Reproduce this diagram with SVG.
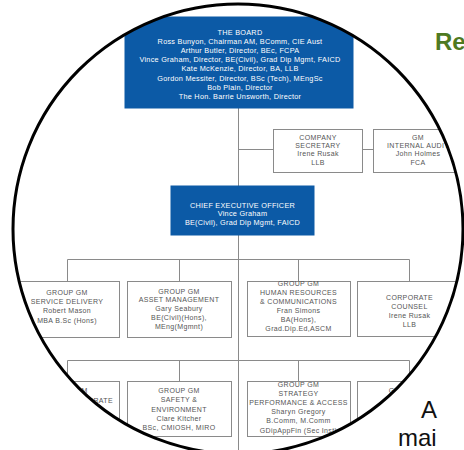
<svg xmlns="http://www.w3.org/2000/svg" width="464" height="450" viewBox="0 0 464 450">
<style>
.bg{fill:#ffffff}
.blue{fill:#0c5aa6;stroke:#0c5aa6;stroke-width:1}
.box{fill:#ffffff;stroke:#8a8a8a;stroke-width:1}
.wt{font-family:"Liberation Sans",Arial,sans-serif;font-size:7.3px;fill:#ffffff;text-anchor:middle;letter-spacing:0.25px}
.gt{font-family:"Liberation Sans",Arial,sans-serif;font-size:7px;fill:#555555;text-anchor:middle;letter-spacing:0.35px}
.ln{fill:none;stroke:#8a8a8a;stroke-width:1}
.big{font-family:"Liberation Sans",Arial,sans-serif}
</style>
<defs>
<clipPath id="lens"><circle cx="238" cy="229" r="225"/></clipPath>
</defs>
<rect class="bg" x="0" y="0" width="464" height="450"/>
<g id="outside-text">
<text class="big" x="435" y="50" font-size="24" font-weight="bold" fill="#4e7a22">Re</text>
<text class="big" x="421" y="418" font-size="24" fill="#111111">A</text>
<text class="big" x="398" y="446" font-size="24" fill="#111111">mai</text>
</g>
<g clip-path="url(#lens)">
<circle cx="238" cy="229" r="225" fill="#ffffff"/>
<g id="connectors">
<path class="ln" d="M238.5,108 V186 M238.5,235 V450 M238.5,149.5 H273 M362,149.5 H373 M67.5,259.5 H409.5 M67.5,259.5 V281 M179.5,259.5 V281 M298.5,259.5 V281 M409.5,259.5 V281 M67.5,360.5 H409.5 M67.5,360.5 V381 M179.5,360.5 V381 M298.5,360.5 V381 M409.5,360.5 V381"/>
</g>
<g id="board">
<rect class="blue" x="125" y="17" width="228" height="91"/>
<text class="wt" x="240" y="35">THE BOARD</text>
<text class="wt" x="240" y="44.1">Ross Bunyon, Chairman AM, BComm, CIE Aust</text>
<text class="wt" x="240" y="53.2">Arthur Butler, Director, BEc, FCPA</text>
<text class="wt" x="240" y="62.3">Vince Graham, Director, BE(Civil), Grad Dip Mgmt, FAICD</text>
<text class="wt" x="240" y="71.4">Kate McKenzie, Director, BA, LLB</text>
<text class="wt" x="240" y="80.5">Gordon Messiter, Director, BSc (Tech), MEngSc</text>
<text class="wt" x="240" y="89.6">Bob Plain, Director</text>
<text class="wt" x="240" y="98.7">The Hon. Barrie Unsworth, Director</text>
</g>
<g id="company-secretary">
<rect class="box" x="273.5" y="129.5" width="89" height="43"/>
<text class="gt" x="318" y="139.5">COMPANY</text>
<text class="gt" x="318" y="147.9">SECRETARY</text>
<text class="gt" x="318" y="156.3">Irene Rusak</text>
<text class="gt" x="318" y="164.7">LLB</text>
</g>
<g id="internal-audit">
<rect class="box" x="373.5" y="129.5" width="89" height="43"/>
<text class="gt" x="418" y="139.5">GM</text>
<text class="gt" x="418" y="147.9">INTERNAL AUDIT</text>
<text class="gt" x="418" y="156.3">John Holmes</text>
<text class="gt" x="418" y="164.7">FCA</text>
</g>
<g id="ceo">
<rect class="blue" x="171" y="186" width="143" height="49"/>
<text class="wt" x="242.5" y="207.5">CHIEF EXECUTIVE OFFICER</text>
<text class="wt" x="242.5" y="216.3">Vince Graham</text>
<text class="wt" x="242.5" y="225.1">BE(Civil), Grad Dip Mgmt, FAICD</text>
</g>
<g id="service-delivery">
<rect class="box" x="15.5" y="281.5" width="104" height="56"/>
<text class="gt" x="67" y="295">GROUP GM</text>
<text class="gt" x="67" y="304">SERVICE DELIVERY</text>
<text class="gt" x="67" y="313">Robert Mason</text>
<text class="gt" x="67" y="322.5">MBA B.Sc (Hons)</text>
</g>
<g id="asset-management">
<rect class="box" x="127.5" y="281.5" width="104" height="56"/>
<text class="gt" x="179" y="293.5">GROUP GM</text>
<text class="gt" x="179" y="302.4">ASSET MANAGEMENT</text>
<text class="gt" x="179" y="311.3">Gary Seabury</text>
<text class="gt" x="179" y="320.2">BE(Civil)(Hons),</text>
<text class="gt" x="179" y="329.1">MEng(Mgmnt)</text>
</g>
<g id="human-resources">
<rect class="box" x="247.5" y="281.5" width="103" height="55"/>
<text class="gt" x="298.5" y="285.8">GROUP GM</text>
<text class="gt" x="298.5" y="294.8">HUMAN RESOURCES</text>
<text class="gt" x="298.5" y="303.8">&amp; COMMUNICATIONS</text>
<text class="gt" x="298.5" y="312.8">Fran Simons</text>
<text class="gt" x="298.5" y="321.8">BA(Hons),</text>
<text class="gt" x="298.5" y="330.8">Grad.Dip.Ed,ASCM</text>
</g>
<g id="corporate-counsel">
<rect class="box" x="357.5" y="281.5" width="104" height="55"/>
<text class="gt" x="409.5" y="299.5">CORPORATE</text>
<text class="gt" x="409.5" y="308.5">COUNSEL</text>
<text class="gt" x="409.5" y="317.5">Irene Rusak</text>
<text class="gt" x="409.5" y="326.5">LLB</text>
</g>
<g id="group-gm-corporate">
<rect class="box" x="15.5" y="381.5" width="104" height="55"/>
<text class="gt" x="67" y="392.5">GROUP GM</text>
<text class="gt" x="113" y="402.5" style="text-anchor:end">CORPORATE</text>
</g>
<g id="safety-environment">
<rect class="box" x="127.5" y="381.5" width="104" height="55"/>
<text class="gt" x="179" y="393.2">GROUP GM</text>
<text class="gt" x="179" y="402.4">SAFETY &amp;</text>
<text class="gt" x="179" y="411.6">ENVIRONMENT</text>
<text class="gt" x="179" y="420.8">Clare Kitcher</text>
<text class="gt" x="179" y="430">BSc, CMIOSH, MIRO</text>
</g>
<g id="strategy">
<rect class="box" x="247.5" y="381.5" width="103" height="55"/>
<text class="gt" x="298.5" y="386.5">GROUP GM</text>
<text class="gt" x="298.5" y="395.7">STRATEGY</text>
<text class="gt" x="298.5" y="404.9">PERFORMANCE &amp; ACCESS</text>
<text class="gt" x="298.5" y="414.1">Sharyn Gregory</text>
<text class="gt" x="298.5" y="423.3">B.Comm, M.Comm</text>
<text class="gt" x="298.5" y="432.5">GDipAppFin (Sec Inst)</text>
</g>
<g id="group-gm-right">
<rect class="box" x="357.5" y="381.5" width="104" height="55"/>
<text class="gt" x="409.5" y="392.5">GROUP GM</text>
</g>
</g>
<circle cx="238" cy="229" r="225" fill="none" stroke="#000000" stroke-width="3"/>
</svg>
